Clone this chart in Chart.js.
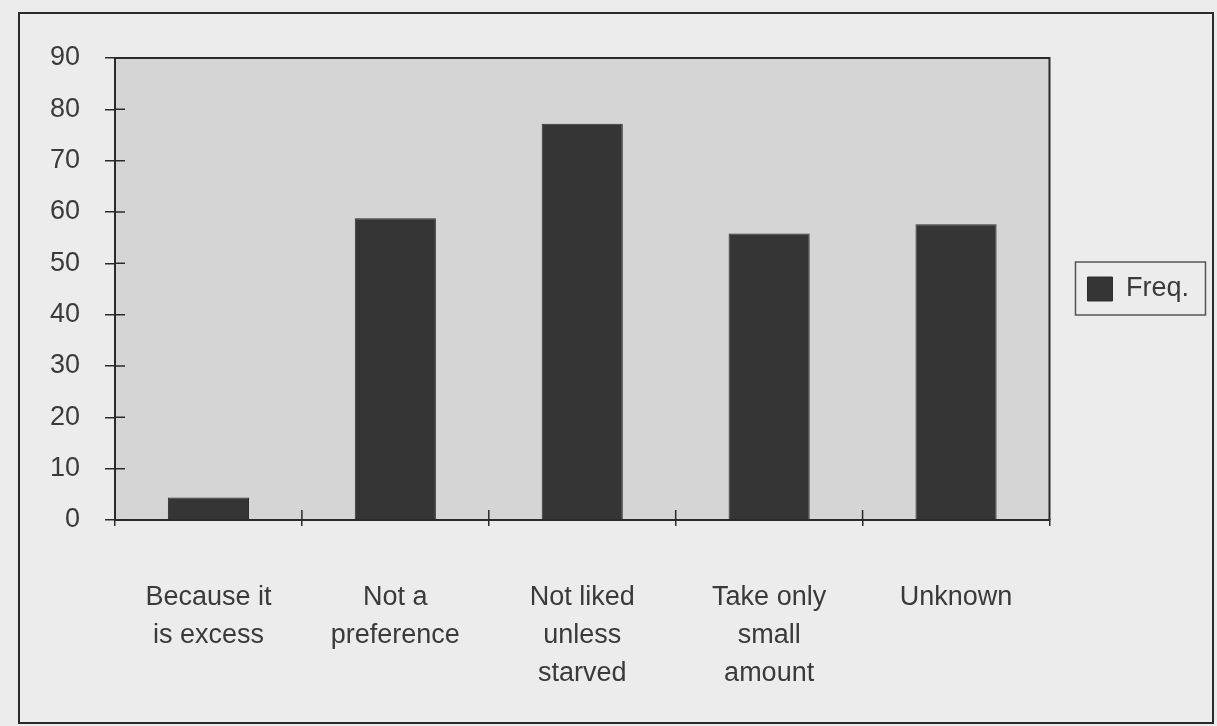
<!DOCTYPE html>
<html>
<head>
<meta charset="utf-8">
<script src="https://cdn.jsdelivr.net/npm/chart.js@4"></script>
<style>
    body { margin: 0; background: #ebebeb; }
    #frame {
        position: absolute;
        left: 18px; top: 12px;
        width: 1192px; height: 708px;
        border: 2px solid #2a2a2a;
        background: #ececec;
    }
</style>
</head>
<body>
<div id="frame"><canvas id="chartContainer" width="1192" height="708"></canvas></div>
<script>
const categories = [
    ['Because it', 'is excess'],
    ['Not a', 'preference'],
    ['Not liked', 'unless', 'starved'],
    ['Take only', 'small', 'amount'],
    ['Unknown']
];
const freqValues = [4.4, 58.8, 77.2, 55.8, 57.6];
const seriesName = 'Freq.';
const yTicks = [0, 10, 20, 30, 40, 50, 60, 70, 80, 90];

const ink = '#2a2a2a';
const textColor = '#3a3a3a';
const fontFamily = '"Liberation Sans", Arial, sans-serif';

// grey plot area, top/right frame and the inward tick marks
const plotDecor = {
    id: 'plotDecor',
    beforeDraw(chart) {
        const { ctx, chartArea: a } = chart;
        ctx.save();
        ctx.fillStyle = '#d5d5d5';
        ctx.fillRect(a.left, a.top, a.right - a.left, a.bottom - a.top);
        ctx.restore();
    },
    afterDraw(chart) {
        const { ctx, chartArea: a, scales } = chart;
        ctx.save();
        ctx.strokeStyle = ink;
        ctx.lineWidth = 2;
        ctx.beginPath();
        ctx.moveTo(a.left, a.top);
        ctx.lineTo(a.right, a.top);
        ctx.lineTo(a.right, a.bottom);
        ctx.stroke();

        ctx.lineWidth = 1.5;
        ctx.beginPath();
        scales.y.ticks.forEach(t => {
            const y = scales.y.getPixelForValue(t.value);
            ctx.moveTo(a.left, y);
            ctx.lineTo(a.left + 10, y);
        });
        const xs = scales.x;
        const step = xs.getPixelForValue(1) - xs.getPixelForValue(0);
        for (let i = 1; i < categories.length; i++) {
            const x = xs.getPixelForValue(i) - step / 2;
            ctx.moveTo(x, a.bottom);
            ctx.lineTo(x, a.bottom - 10);
        }
        ctx.stroke();

        // box round the legend
        const hb = chart.legend.legendHitBoxes[0];
        if (hb) {
            ctx.lineWidth = 1.5;
            ctx.strokeStyle = '#555';
            const cy = hb.top + hb.height / 2;
            ctx.strokeRect(hb.left - 12, cy - 27, 130, 53);
        }
        ctx.restore();
    }
};

new Chart(document.getElementById('chartContainer'), {
    type: 'bar',
    data: {
        labels: categories,
        datasets: [{
            label: seriesName,
            data: freqValues,
            backgroundColor: '#353535',
            borderColor: '#2e2e2e',
            borderWidth: 1,
            barPercentage: 0.434,
            categoryPercentage: 1
        }]
    },
    options: {
        responsive: false,
        animation: false,
        layout: { padding: { top: 44, left: 30, bottom: 29, right: 13 } },
        plugins: {
            legend: {
                position: 'right',
                fullSize: false,
                labels: {
                    boxWidth: 25,
                    boxHeight: 24,
                    padding: 38,
                    color: textColor,
                    font: { family: fontFamily, size: 27 }
                }
            },
            tooltip: { enabled: false }
        },
        scales: {
            x: {
                afterFit: scale => { scale.height = 173; },
                grid: { drawOnChartArea: false, tickLength: 6, color: ink, lineWidth: 1.5 },
                border: { color: ink, width: 2 },
                ticks: {
                    padding: 53,
                    maxRotation: 0,
                    color: textColor,
                    font: { family: fontFamily, size: 27, lineHeight: 1.4 }
                }
            },
            y: {
                min: 0,
                max: 90,
                afterFit: scale => { scale.width = 65; },
                afterBuildTicks: scale => { scale.ticks = yTicks.map(v => ({ value: v })); },
                grid: { drawOnChartArea: false, tickLength: 10, color: ink, lineWidth: 1.5 },
                border: { color: ink, width: 2 },
                ticks: {
                    padding: 25,
                    color: textColor,
                    font: { family: fontFamily, size: 27 }
                }
            }
        }
    },
    plugins: [plotDecor]
});
</script>
</body>
</html>
